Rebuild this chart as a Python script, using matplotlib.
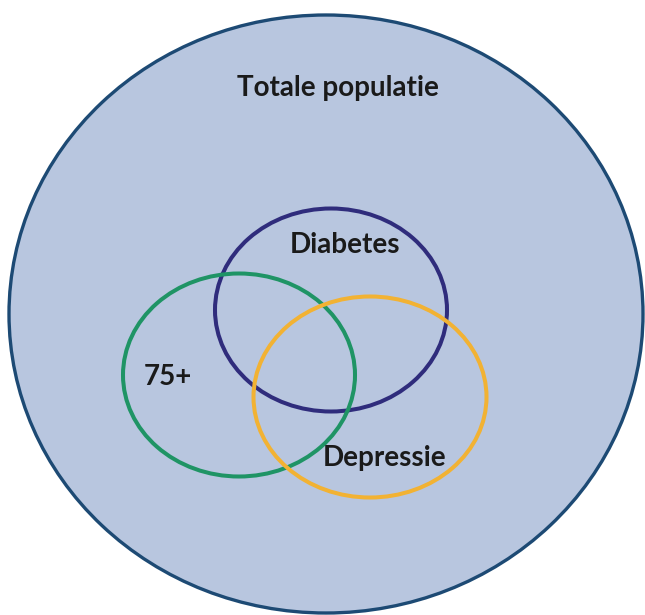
import matplotlib
matplotlib.use("Agg")
from matplotlib import pyplot as plt
from matplotlib.patches import Ellipse

# labels of the sets
outer_label = "Totale populatie"
set_labels = ["Diabetes", "75+", "Depressie"]
set_colors = ["#2f2c7c", "#1f9465", "#f2b233"]

# layout in pixel coordinates (x, y from top-left)
outer_center = (326, 314)
outer_size = (634, 598)
set_centers = [(331, 310), (239, 375), (370, 397)]
set_sizes = [(232, 203), (232, 203), (233, 201)]
label_pos = [(345, 245), (168, 377), (385, 458)]

fig = plt.figure(figsize=(6.45, 6.15), dpi=100)
ax = fig.add_axes([0, 0, 1, 1])
ax.set_xlim(0, 645)
ax.set_ylim(615, 0)
ax.axis("off")

# big population circle
ax.add_patch(Ellipse(outer_center, outer_size[0], outer_size[1],
                     facecolor="#b8c6df", edgecolor="#1d4a74", linewidth=2.4))
ax.text(338, 88, outer_label, ha="center", va="center",
        fontsize=20, fontweight="bold", family="Lato", color="#1a1a1a")

# the three sets
for c, s, col in zip(set_centers, set_sizes, set_colors):
    ax.add_patch(Ellipse(c, s[0], s[1], facecolor="none",
                         edgecolor=col, linewidth=2.9))

for lab, p in zip(set_labels, label_pos):
    ax.text(p[0], p[1], lab, ha="center", va="center",
            fontsize=20, fontweight="bold", family="Lato", color="#1a1a1a")

plt.savefig("out.png", dpi=100)
